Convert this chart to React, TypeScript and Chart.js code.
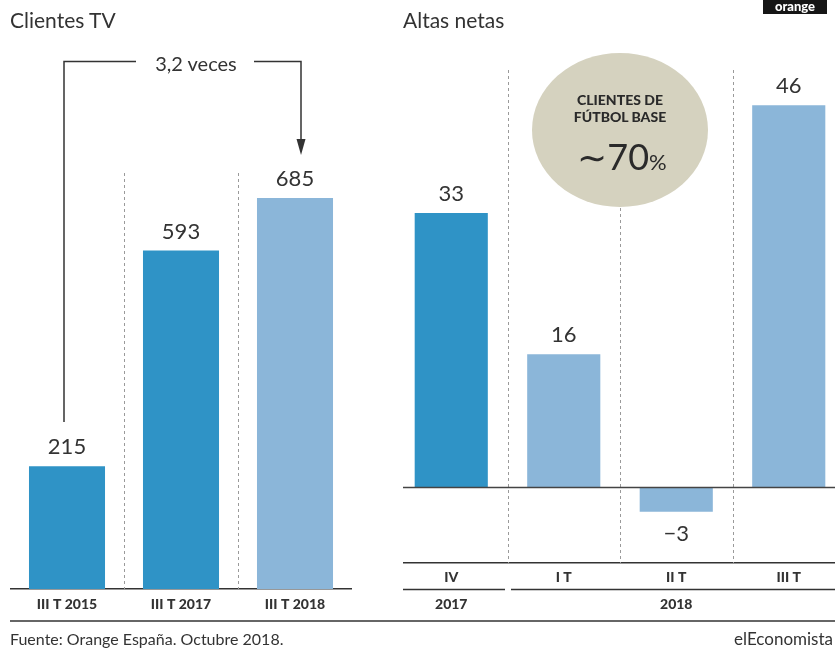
import React, { useEffect, useRef } from "react";
import { Chart, registerables } from "chart.js";

Chart.register(...registerables);

const leftLabels = ["III T 2015", "III T 2017", "III T 2018"];
const leftValues = [215, 593, 685];
const rightLabels = ["IV", "I T", "II T", "III T"];
const rightValues = [33, 16, -3, 46];
const rightYears = ["2017", "2018"];

const DARK = "#2f93c6";
const LIGHT = "#8bb6d9";
const TEXT = "#333333";
const FONT = "Lato, 'Open Sans', sans-serif";

const leftColors = [DARK, DARK, LIGHT];
const rightColors = [DARK, LIGHT, LIGHT, LIGHT];

function fmt(v: number) {
  return v < 0 ? "\u2212" + Math.abs(v) : String(v);
}

const leftPlugin = {
  id: "leftDeco",
  beforeDatasetsDraw(chart: any) {
    const { ctx, chartArea, scales } = chart;
    const x = scales.x;
    ctx.save();
    ctx.strokeStyle = "#9a9a9a";
    ctx.lineWidth = 1;
    ctx.setLineDash([3, 3]);
    for (let i = 0; i < leftLabels.length - 1; i++) {
      const px = Math.round((x.getPixelForValue(i) + x.getPixelForValue(i + 1)) / 2) + 0.5;
      ctx.beginPath();
      ctx.moveTo(px, 173);
      ctx.lineTo(px, chartArea.bottom);
      ctx.stroke();
    }
    ctx.restore();
  },
  afterDatasetsDraw(chart: any) {
    const { ctx } = chart;
    const meta = chart.getDatasetMeta(0);
    ctx.save();
    ctx.fillStyle = TEXT;
    ctx.font = "22px " + FONT;
    ctx.textAlign = "center";
    ctx.textBaseline = "middle";
    meta.data.forEach((bar: any, i: number) => {
      ctx.fillText(fmt(leftValues[i]), bar.x, bar.y - 19);
    });
    ctx.restore();
  },
};

const rightPlugin = {
  id: "rightDeco",
  beforeDatasetsDraw(chart: any) {
    const { ctx, chartArea, scales } = chart;
    const x = scales.x;
    ctx.save();
    ctx.strokeStyle = "#9a9a9a";
    ctx.lineWidth = 1;
    ctx.setLineDash([3, 3]);
    for (let i = 0; i < rightLabels.length - 1; i++) {
      const px = Math.round((x.getPixelForValue(i) + x.getPixelForValue(i + 1)) / 2) + 0.5;
      ctx.beginPath();
      ctx.moveTo(px, 70);
      ctx.lineTo(px, chartArea.bottom);
      ctx.stroke();
    }
    ctx.restore();
  },
  afterDatasetsDraw(chart: any) {
    const { ctx, chartArea, scales } = chart;
    const x = scales.x;
    const y = scales.y;
    ctx.save();
    const zy = Math.round(y.getPixelForValue(0)) + 0.5;
    ctx.strokeStyle = "#444";
    ctx.lineWidth = 1.5;
    ctx.beginPath();
    ctx.moveTo(chartArea.left, zy);
    ctx.lineTo(chartArea.right, zy);
    ctx.stroke();
    const meta = chart.getDatasetMeta(0);
    ctx.fillStyle = TEXT;
    ctx.font = "22px " + FONT;
    ctx.textAlign = "center";
    ctx.textBaseline = "middle";
    meta.data.forEach((bar: any, i: number) => {
      const v = rightValues[i];
      const ly = v >= 0 ? bar.y - 19 : bar.y + 22;
      ctx.fillText(fmt(v), bar.x, ly);
    });
    const b = (x.getPixelForValue(0) + x.getPixelForValue(1)) / 2;
    const gy = chartArea.bottom + 26.5;
    ctx.strokeStyle = "#333";
    ctx.lineWidth = 1.5;
    ctx.beginPath();
    ctx.moveTo(chartArea.left, gy);
    ctx.lineTo(b - 2.5, gy);
    ctx.moveTo(b + 3.5, gy);
    ctx.lineTo(chartArea.right, gy);
    ctx.stroke();
    ctx.font = "900 14px " + FONT;
    ctx.fillText(rightYears[0], x.getPixelForValue(0), chartArea.bottom + 41);
    ctx.fillText(rightYears[1], x.getPixelForValue(2), chartArea.bottom + 41);
    ctx.restore();
  },
};

function useBarChart(
  ref: React.RefObject<HTMLCanvasElement>,
  labels: string[],
  values: number[],
  colors: string[],
  yMin: number,
  yMax: number,
  axisHeight: number,
  tickPad: number,
  barPct: number,
  plugin: any
) {
  useEffect(() => {
    if (!ref.current) return;
    const chart = new Chart(ref.current, {
      type: "bar",
      data: {
        labels,
        datasets: [
          {
            data: values,
            backgroundColor: colors,
            borderWidth: 0,
            barPercentage: barPct,
            categoryPercentage: 1,
          },
        ],
      },
      options: {
        responsive: false,
        animation: false,
        devicePixelRatio: 1,
        layout: { padding: 0 },
        plugins: { legend: { display: false }, tooltip: { enabled: false } },
        scales: {
          x: {
            grid: { display: false, drawTicks: false },
            border: { display: true, color: "#333", width: 1.5 },
            ticks: {
              color: TEXT,
              font: { family: FONT, size: 14, weight: "900" },
              padding: tickPad,
              maxRotation: 0,
              autoSkip: false,
            },
            afterFit: (s: any) => {
              s.height = axisHeight;
            },
          },
          y: { display: false, min: yMin, max: yMax },
        },
      } as any,
      plugins: [plugin],
    });
    return () => chart.destroy();
  }, []);
}

export default function App() {
  const leftRef = useRef<HTMLCanvasElement>(null);
  const rightRef = useRef<HTMLCanvasElement>(null);

  useBarChart(leftRef, leftLabels, leftValues, leftColors, 0, 1032, 32, 7, 0.667, leftPlugin);
  useBarChart(rightRef, rightLabels, rightValues, rightColors, -9.16, 58.67, 58, 6, 0.65, rightPlugin);

  return (
    <div
      style={{
        position: "absolute",
        left: 0,
        top: 0,
        width: 835,
        height: 653,
        overflow: "hidden",
        background: "#fff",
        fontFamily: FONT,
        color: TEXT,
      }}
    >
      <div style={{ position: "absolute", left: 10, top: 0, width: 342, height: 621 }}>
        <canvas ref={leftRef} width={342} height={621} />
      </div>
      <div style={{ position: "absolute", left: 403, top: 0, width: 432, height: 621, overflow: "hidden" }}>
        <canvas ref={rightRef} width={450} height={621} style={{ position: "absolute", left: -8, top: 0 }} />
      </div>
      <svg width={835} height={653} style={{ position: "absolute", left: 0, top: 0, pointerEvents: "none" }}>
        <text x={10} y={28} fontSize={21} fill={TEXT} fontFamily={FONT}>Clientes TV</text>
        <text x={403} y={28} fontSize={21} fill={TEXT} fontFamily={FONT}>Altas netas</text>
        <rect x={763} y={0} width={64} height={14} fill="#161616" />
        <text x={795} y={11} fontSize={13} fontWeight="900" fill="#fff" textAnchor="middle" fontFamily={FONT}>orange</text>
        <path d="M64 422 V61.5 H136 M254 61.5 H301 V140" stroke="#333" strokeWidth={1.5} fill="none" />
        <polygon points="296.5,139 305.5,139 301,155" fill="#333" />
        <text x={196} y={71} fontSize={20} fill={TEXT} textAnchor="middle" fontFamily={FONT}>3,2 veces</text>
        <ellipse cx={620} cy={130} rx={88} ry={77} fill="#d5d2bf" />
        <text x={620} y={105} fontSize={14} fontWeight="900" fill="#2a2a2a" textAnchor="middle" fontFamily={FONT}>CLIENTES DE</text>
        <text x={620} y={122} fontSize={14} fontWeight="900" fill="#2a2a2a" textAnchor="middle" fontFamily={FONT}>FÚTBOL BASE</text>
        <text x={622} y={170} fill="#2a2a2a" textAnchor="middle" fontFamily={FONT}>
          <tspan fontSize={36}>{"\u223C70"}</tspan>
          <tspan fontSize={22}>%</tspan>
        </text>
        <line x1={10} y1={621} x2={835} y2={621} stroke="#333" strokeWidth={1.5} />
        <text x={10} y={645} fontSize={16} fill={TEXT} fontFamily={FONT}>Fuente: Orange España. Octubre 2018.</text>
        <text x={833} y={645} fontSize={17} fill={TEXT} textAnchor="end" fontFamily={FONT}>elEconomista</text>
      </svg>
    </div>
  );
}
